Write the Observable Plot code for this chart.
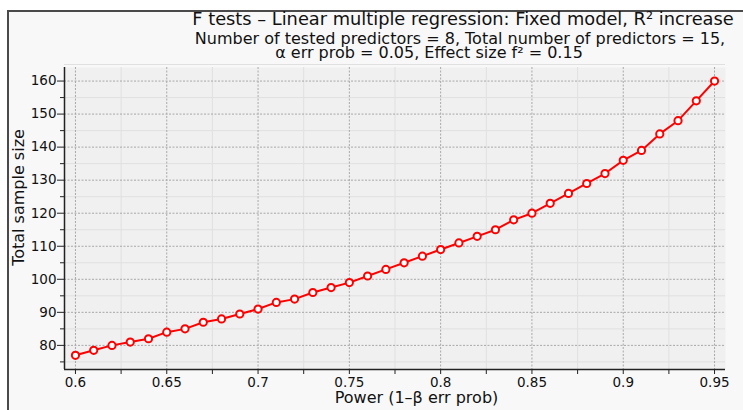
<!DOCTYPE html>
<html>
<head>
<meta charset="utf-8">
<script src="https://cdn.jsdelivr.net/npm/d3@7"></script>
<script src="https://cdn.jsdelivr.net/npm/@observablehq/plot@0.6"></script>
<style>
  html, body { margin: 0; padding: 0; background: #ffffff; }
  #wrap { position: relative; width: 743px; height: 410px; overflow: hidden; font-family: "DejaVu Sans", sans-serif; color: #111; }
  #frame { position: absolute; left: 7px; top: 10px; right: -4px; bottom: -4px; border-left: 2px solid #4a4a4a; border-top: 2px solid #4a4a4a; background: #f8f8f8; }
  #header { position: relative; height: 62px; }
  .tl { position: absolute; white-space: nowrap; transform: translateX(-50%); }
  #chart { position: relative; }
</style>
</head>
<body>
<div id="wrap">
  <div id="frame"></div>
  <div id="header">
    <div class="tl" id="t1" style="left:463px; top:10px; font-size:17.8px; line-height:18px;"></div>
    <div class="tl" id="t2" style="left:460px; top:31px; font-size:16px; line-height:15px;"></div>
    <div class="tl" id="t3" style="left:429px; top:45px; font-size:16px; line-height:15px;"></div>
  </div>
  <div id="chart"></div>
</div>
<script>
// ---- Data ----
const titleLine1 = "F tests – Linear multiple regression: Fixed model, R² increase";
const titleLine2 = "Number of tested predictors = 8, Total number of predictors = 15,";
const titleLine3 = "α err prob = 0.05, Effect size f² = 0.15";
const xLabel = "Power (1–β err prob)";
const yLabel = "Total sample size";

const powerLevels = [0.60, 0.61, 0.62, 0.63, 0.64, 0.65, 0.66, 0.67, 0.68, 0.69,
                     0.70, 0.71, 0.72, 0.73, 0.74, 0.75, 0.76, 0.77, 0.78, 0.79,
                     0.80, 0.81, 0.82, 0.83, 0.84, 0.85, 0.86, 0.87, 0.88, 0.89,
                     0.90, 0.91, 0.92, 0.93, 0.94, 0.95];
const sampleSizes = [77, 78.5, 80, 81, 82, 84, 85, 87, 88, 89.5,
                     91, 93, 94, 96, 97.5, 99, 101, 103, 105, 107,
                     109, 111, 113, 115, 118, 120, 123, 126, 129, 132,
                     136, 139, 144, 148, 154, 160];

const yTicks = [80, 90, 100, 110, 120, 130, 140, 150, 160];
const yMinorTicks = [75, 85, 95, 105, 115, 125, 135, 145, 155, 165];
const xTicks = [0.6, 0.65, 0.7, 0.75, 0.8, 0.85, 0.9, 0.95];
const xTickLabels = ["0.6", "0.65", "0.7", "0.75", "0.8", "0.85", "0.9", "0.95"];
const xMinorTicks = [0.625, 0.675, 0.725, 0.775, 0.825, 0.875, 0.925];

// ---- Build ----
document.getElementById("t1").textContent = titleLine1;
document.getElementById("t2").textContent = titleLine2;
document.getElementById("t3").textContent = titleLine3;

const data = powerLevels.map((p, i) => ({power: p, n: sampleSizes[i]}));
const xTickMarks = xTicks.concat(xMinorTicks).sort((a, b) => a - b);
const labelFor = d => {
  const i = xTicks.findIndex(t => Math.abs(t - d) < 1e-9);
  return i >= 0 ? xTickLabels[i] : "";
};
const xDomain = [0.594, 0.956];
const yDomain = [72.7, 164.1];

const chart = Plot.plot({
  width: 743,
  height: 348,
  marginTop: 5,
  marginBottom: 41,
  marginLeft: 64,
  marginRight: 18,
  style: {background: "transparent", fontFamily: "DejaVu Sans, sans-serif", fontSize: "13.5px", color: "#111"},
  x: {domain: xDomain},
  y: {domain: yDomain},
  marks: [
    Plot.frame({fill: "#f0f0f0", stroke: "none"}),
    Plot.gridY(yMinorTicks, {stroke: "#e0e0e0", strokeOpacity: 1, strokeWidth: 1}),
    Plot.gridX(xMinorTicks, {stroke: "#e0e0e0", strokeOpacity: 1, strokeWidth: 1}),
    Plot.gridY(yTicks, {stroke: "#a8a8a8", strokeOpacity: 1, strokeWidth: 1, strokeDasharray: "2,1.5"}),
    Plot.gridX(xTicks, {stroke: "#a8a8a8", strokeOpacity: 1, strokeWidth: 1, strokeDasharray: "2,1.5"}),
    Plot.axisY(yTicks, {tickSize: 7, tickPadding: 1, label: null, fontSize: 13.5, stroke: "#222"}),
    Plot.axisY(yMinorTicks.filter(t => t < 164), {tickSize: 4, tickFormat: () => "", label: null, stroke: "#222"}),
    Plot.axisX(xTickMarks, {tickSize: 5, tickPadding: 3, tickFormat: labelFor, label: null, fontSize: 13.5, stroke: "#222"}),
    Plot.ruleX([xDomain[0]], {stroke: "#222", strokeWidth: 1.5}),
    Plot.ruleY([yDomain[0]], {stroke: "#222", strokeWidth: 1.5}),
    Plot.line(data, {x: "power", y: "n", stroke: "#ff0000", strokeWidth: 2}),
    Plot.dot(data, {x: "power", y: "n", r: 3.6, fill: "white", stroke: "#ff0000", strokeWidth: 2}),
    Plot.text([yLabel], {text: d => d, frameAnchor: "left", rotate: -90, dx: -46, dy: -21, fontSize: 16, textAnchor: "middle", lineAnchor: "middle", fill: "#111"}),
    Plot.text([xLabel], {text: d => d, frameAnchor: "bottom", dx: 21.5, dy: 28.5, fontSize: 16, textAnchor: "middle", lineAnchor: "middle", fill: "#111"})
  ]
});
document.getElementById("chart").appendChild(chart);
</script>
</body>
</html>
